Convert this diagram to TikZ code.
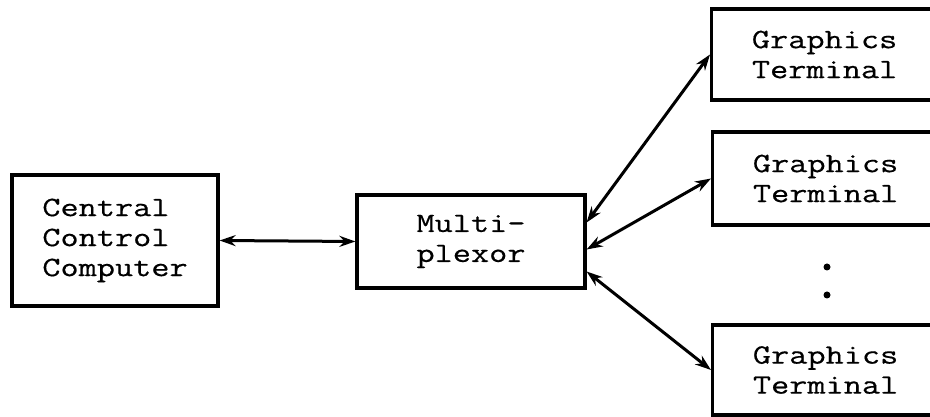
\documentclass[tikz,border=0pt]{standalone}
\usepackage{fontspec}
\newfontfamily\boxfont{Latin Modern Mono}[FakeStretch=1.26,FakeBold=0.5]
\usetikzlibrary{arrows.meta}
\begin{document}
\begin{tikzpicture}[x=1pt,y=1pt,
  blk/.style={draw=black, line width=3.2pt, fill=white, align=left,
    font=\boxfont\fontsize{28}{30}\selectfont, inner sep=0pt},
  term/.style={blk, anchor=west, minimum width=226pt},
  link/.style={line width=3pt, {Stealth[length=16pt,width=11pt]}-{Stealth[length=16pt,width=11pt]}},
  dot/.style={fill=black, circle, inner sep=0pt, minimum size=7pt}]
\clip (0,0) rectangle (930,417);
\fill[white] (0,0) rectangle (930,417);
\node[blk, minimum width=206pt, minimum height=131pt] (ccc) at (115,176.5) {Central\\Control\\Computer};
\node[blk, minimum width=228pt, minimum height=93pt] (mux) at (471,175.5) {Multi-\\plexor};
\node[term, minimum height=91pt] (t1) at (710,362.5) {Graphics\\Terminal};
\node[term, minimum height=93pt] (t2) at (711,238.5) {Graphics\\Terminal};
\node[term, minimum height=90pt] (t3) at (711,47) {Graphics\\Terminal};
\node[dot] (d1) at (827,150) {};
\node[dot] (d2) at (827,122) {};
\draw[link] (ccc.east) -- (mux.west);
\draw[link] ([yshift=19pt]mux.east) -- (t1.west);
\draw[link] ([yshift=-8pt]mux.east) -- (t2.west);
\draw[link] ([yshift=-30pt]mux.east) -- (t3.west);
\end{tikzpicture}
\end{document}
